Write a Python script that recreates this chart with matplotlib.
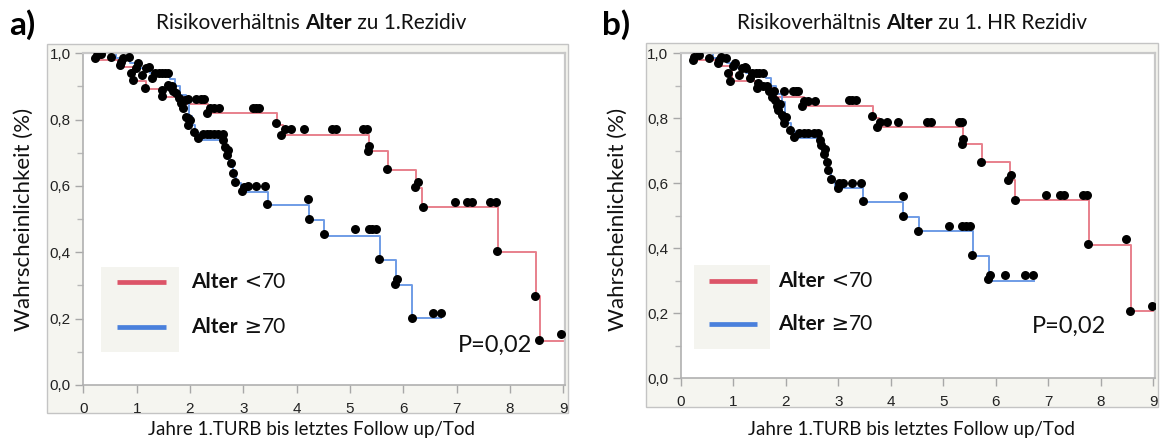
import numpy as np
import matplotlib
matplotlib.use("Agg")
import matplotlib.pyplot as plt
from matplotlib.patches import Rectangle
from matplotlib.lines import Line2D
from matplotlib.text import Annotation
from matplotlib.ticker import MultipleLocator, FixedLocator, FuncFormatter

# Kaplan-Meier steps: event time, survival after the event, end of follow up
red_a_t = [0, 0.22, 0.68, 0.93, 1.17, 1.47, 1.88, 2.34, 3.64, 3.75, 5.35, 5.72, 6.24, 6.34, 7.77, 8.48, 8.57]
red_a_s = [1.0, 0.98, 0.96, 0.916, 0.891, 0.869, 0.847, 0.821, 0.784, 0.754, 0.704, 0.648, 0.595, 0.536, 0.402, 0.269, 0.134]
red_a_end = 9.0
blue_a_t = [0, 0.62, 0.88, 1.05, 1.25, 1.62, 1.72, 1.82, 1.92, 1.98, 2.04, 2.10, 2.17, 2.62, 2.68, 2.74, 2.80, 2.86,
            2.95, 3.47, 4.23, 4.52, 5.56, 5.86, 6.17]
blue_a_s = [1.0, 0.985, 0.97, 0.955, 0.94, 0.924, 0.90, 0.875, 0.85, 0.81, 0.785, 0.76, 0.739, 0.72, 0.70, 0.67, 0.64,
            0.61, 0.583, 0.543, 0.497, 0.45, 0.377, 0.30, 0.201]
blue_a_end = 6.71

red_b_t = [0, 0.22, 0.70, 0.98, 1.43, 1.82, 2.35, 3.66, 3.77, 5.38, 5.73, 6.26, 6.37, 7.77, 8.58]
red_b_s = [1.0, 0.98, 0.96, 0.915, 0.893, 0.867, 0.838, 0.80, 0.772, 0.72, 0.664, 0.611, 0.55, 0.411, 0.207]
red_b_end = 9.0
blue_b_t = [0, 0.62, 0.88, 1.05, 1.25, 1.62, 1.72, 1.82, 1.92, 1.98, 2.04, 2.10, 2.17, 2.63, 2.69, 2.75, 2.81, 2.87,
            2.94, 3.47, 4.24, 4.53, 5.57, 5.87]
blue_b_s = [1.0, 0.985, 0.97, 0.955, 0.94, 0.924, 0.90, 0.875, 0.85, 0.81, 0.785, 0.76, 0.74, 0.72, 0.70, 0.67, 0.64,
            0.61, 0.584, 0.542, 0.497, 0.452, 0.376, 0.30]
blue_b_end = 6.72

dots_a_t = [0.22, 0.25, 0.34, 0.51, 0.68, 0.70, 0.74, 0.86, 0.89, 0.93, 0.98, 1.03, 1.10, 1.15, 1.17, 1.24, 1.29,
            1.34, 1.42, 1.48, 1.54, 1.58, 1.47, 1.47, 1.58, 1.63, 1.67, 1.69, 1.74, 1.79, 1.83, 1.86, 1.90, 1.93,
            1.96, 1.96, 2.00, 1.96, 2.07, 2.12, 2.20, 2.27, 2.15, 2.24, 2.31, 2.38, 2.45, 2.53, 2.61, 2.31, 2.37,
            2.45, 2.55, 2.62, 2.66, 2.72, 2.70, 2.77, 2.81, 2.84, 2.98, 3.02, 3.08, 3.23, 3.40, 3.45, 3.19, 3.24,
            3.30, 3.62, 3.71, 3.78, 3.90, 4.13, 4.66, 4.73, 5.25, 5.32, 5.35, 5.33, 5.70, 6.22, 6.27, 6.36, 6.96,
            7.19, 7.28, 7.62, 7.74, 7.75, 8.46, 8.55, 8.95, 4.21, 4.23, 4.51, 5.09, 5.35, 5.42, 5.48, 5.54, 5.85,
            5.88, 6.17, 6.56, 6.70]
dots_a_s = [0.985, 0.995, 0.998, 0.988, 0.965, 0.975, 0.985, 0.988, 0.94, 0.918, 0.955, 0.972, 0.935, 0.894, 0.955,
            0.96, 0.925, 0.94, 0.942, 0.942, 0.942, 0.942, 0.889, 0.871, 0.905, 0.897, 0.90, 0.887, 0.879, 0.864,
            0.849, 0.834, 0.86, 0.809, 0.861, 0.804, 0.799, 0.784, 0.764, 0.862, 0.862, 0.862, 0.744, 0.757, 0.757,
            0.757, 0.757, 0.757, 0.757, 0.819, 0.836, 0.836, 0.836, 0.739, 0.719, 0.709, 0.693, 0.668, 0.640,
            0.613, 0.586, 0.598, 0.601, 0.601, 0.601, 0.545, 0.836, 0.836, 0.836, 0.789, 0.754, 0.771, 0.771,
            0.771, 0.771, 0.771, 0.771, 0.771, 0.721, 0.706, 0.651, 0.596, 0.611, 0.538, 0.553, 0.553, 0.553,
            0.553, 0.553, 0.404, 0.269, 0.136, 0.153, 0.560, 0.500, 0.454, 0.469, 0.469, 0.469, 0.469, 0.379,
            0.305, 0.319, 0.203, 0.218, 0.218]

dots_b_t = [0.23, 0.26, 0.35, 0.54, 0.71, 0.72, 0.76, 0.86, 0.90, 0.93, 1.00, 1.04, 1.11, 1.17, 1.22, 1.25, 1.32,
            1.36, 1.43, 1.50, 1.57, 1.46, 1.48, 1.57, 1.64, 1.68, 1.73, 1.77, 1.80, 1.84, 1.85, 1.90, 1.97, 1.92,
            1.96, 2.00, 1.96, 2.08, 2.16, 2.14, 2.19, 2.24, 2.26, 2.35, 2.43, 2.53, 2.62, 2.31, 2.35, 2.43, 2.55,
            2.65, 2.67, 2.74, 2.72, 2.79, 2.81, 2.86, 2.99, 3.02, 3.09, 3.26, 3.43, 3.47, 3.21, 3.27, 3.33, 3.64,
            3.73, 3.80, 3.92, 4.14, 4.69, 4.76, 5.29, 5.36, 5.37, 5.35, 5.72, 6.23, 6.28, 6.36, 6.96, 7.22, 7.29,
            7.66, 7.74, 7.76, 8.47, 8.56, 8.97, 4.23, 4.24, 4.52, 5.10, 5.36, 5.43, 5.50, 5.55, 5.85, 5.89, 6.17,
            6.56, 6.70]
dots_b_s = [0.98, 0.99, 0.995, 0.987, 0.97, 0.98, 0.99, 0.985, 0.94, 0.915, 0.96, 0.97, 0.933, 0.954, 0.959, 0.954,
            0.923, 0.94, 0.94, 0.94, 0.94, 0.893, 0.908, 0.90, 0.898, 0.885, 0.867, 0.885, 0.857, 0.838, 0.826,
            0.844, 0.885, 0.81, 0.80, 0.805, 0.785, 0.765, 0.742, 0.885, 0.885, 0.885, 0.756, 0.756, 0.756, 0.756,
            0.756, 0.838, 0.854, 0.854, 0.854, 0.734, 0.719, 0.705, 0.691, 0.664, 0.64, 0.613, 0.585, 0.601, 0.601,
            0.601, 0.601, 0.545, 0.855, 0.855, 0.855, 0.808, 0.773, 0.788, 0.788, 0.788, 0.788, 0.788, 0.788,
            0.788, 0.736, 0.722, 0.666, 0.611, 0.626, 0.55, 0.565, 0.565, 0.565, 0.565, 0.565, 0.414, 0.429,
            0.207, 0.222, 0.56, 0.498, 0.454, 0.47, 0.47, 0.47, 0.47, 0.379, 0.304, 0.319, 0.319, 0.319, 0.319]

groups = ["Alter", "Alter"]
group_signs = [" <", " \u2265"]
group_limit = "70"
y_ticks = [0.0, 0.2, 0.4, 0.6, 0.8, 1.0]
x_ticks = list(range(10))
p_text = "P=0,02"

W, H = 1164, 443
txt = ["Lato", "DejaVu Sans"]
red_line = "#e8808c"
blue_line = "#6f9ce6"
red_leg = "#dc5468"
blue_leg = "#4a80dc"


def fx(px):
    return px / W


def fy(py):
    return 1 - py / H


def chain(fig, x, y, parts, size, center=False):
    # parts: (text, weight, family) pieces drawn one after another on one line
    first = fig.text(fx(x), fy(y), parts[0][0], fontsize=size, weight=parts[0][1],
                     family=parts[0][2], ha="left", va="center", color="#111111")
    prev = first
    for s, w, f in parts[1:]:
        prev = fig.add_artist(Annotation(s, xy=(1, 0), xycoords=prev, va="bottom", ha="left",
                                         fontsize=size, weight=w, family=f, color="#111111"))
    if center:
        fig.canvas.draw()
        width = prev.get_window_extent().x1 - first.get_window_extent().x0
        first.set_x(fx(x - width / 2))
    return first


def panel(fig, frame, box, red, blue, dots, title, title_x, label, label_x, ylab_x, xlab_x, leg, p_xy):
    x0, y0, x1, y1 = frame
    fig.add_artist(Rectangle((fx(x0), fy(y1)), (x1 - x0) / W, (y1 - y0) / H, transform=fig.transFigure,
                             facecolor="#f5f5f0", edgecolor="#c4c4c4", lw=1.0, zorder=0))
    l, t, r, b = box
    ax = fig.add_axes([fx(l), fy(b), (r - l) / W, (b - t) / H])
    ax.set_facecolor("white")
    for t_, s_, end, c in [red + (red_line,), blue + (blue_line,)]:
        ax.step(np.append(t_, end), np.append(s_, s_[-1]), where="post", color=c, lw=1.4, zorder=2)
    ax.scatter(dots[0], dots[1], s=42, color="black", lw=0, zorder=3)
    ax.set_xlim(0, 9.03)
    ax.set_ylim(0, 1.0)
    ax.xaxis.set_major_locator(FixedLocator(x_ticks))
    ax.yaxis.set_major_locator(FixedLocator(y_ticks))
    ax.yaxis.set_minor_locator(MultipleLocator(0.1))
    ax.yaxis.set_major_formatter(FuncFormatter(lambda v, p: ("%.1f" % v).replace(".", ",")))
    for side in ["left", "bottom"]:
        ax.spines[side].set_color("#b0b0b0")
        ax.spines[side].set_linewidth(1.2)
    for side in ["top", "right"]:
        ax.spines[side].set_color("#c8c8c8")
        ax.spines[side].set_linewidth(1.6)
    ax.tick_params(which="major", length=6, width=1, color="#a8a8a8", labelsize=11, labelcolor="#222222")
    ax.tick_params(which="minor", length=4, width=1, color="#b8b8b8")
    ax.tick_params(axis="x", pad=6)
    ax.tick_params(axis="y", pad=3)
    for lab in ax.get_xticklabels() + ax.get_yticklabels():
        lab.set_family("Liberation Sans")

    chain(fig, title_x, 23, title, 15, center=True)
    fig.text(fx(label_x), fy(25), label, fontsize=24, weight="bold", family=txt, ha="left", va="center")
    fig.text(fx(ylab_x), fy(219), "Wahrscheinlichkeit (%)", rotation=90, fontsize=16, family=txt,
             ha="center", va="center", color="#111111")
    fig.text(fx(xlab_x), fy(430), "Jahre 1.TURB bis letztes Follow up/Tod", fontsize=13.5, family=txt,
             ha="center", va="center", color="#111111")

    bx0, by0, bx1, by1, lx0, lx1, ly_r, ly_b, tx = leg
    fig.add_artist(Rectangle((fx(bx0), fy(by1)), (bx1 - bx0) / W, (by1 - by0) / H, transform=fig.transFigure,
                             facecolor="#f4f4ef", edgecolor="none", zorder=1))
    for ly, c, g, sign in [(ly_r, red_leg, groups[0], group_signs[0]), (ly_b, blue_leg, groups[1], group_signs[1])]:
        fig.add_artist(Line2D([fx(lx0), fx(lx1)], [fy(ly), fy(ly)], transform=fig.transFigure,
                              color=c, lw=3.4, solid_capstyle="butt", zorder=2))
        chain(fig, tx, ly, [(g, "bold", txt), (sign, "normal", ["DejaVu Sans"]),
                            (group_limit, "normal", txt)], 15)
    fig.text(fx(p_xy[0]), fy(p_xy[1]), p_text, fontsize=17, family=txt, ha="center", va="center", color="#111111")
    return ax


fig = plt.figure(figsize=(W / 100, H / 100), dpi=100)
fig.patch.set_facecolor("white")

panel(fig, (46.7, 44.3, 568.3, 413.3), (83.3, 53.3, 565.0, 385.0),
      (red_a_t, red_a_s, red_a_end), (blue_a_t, blue_a_s, blue_a_end), (dots_a_t, dots_a_s),
      [("Risikoverh\u00e4ltnis ", "normal", txt), ("Alter", "bold", txt), (" zu 1.Rezidiv", "normal", txt)], 311,
      "a)", 9, 24, 312, (101, 267, 179, 352, 117, 166, 282.3, 326.7, 191), (495, 345))

panel(fig, (646, 43, 1158, 406.7), (680.7, 53.3, 1155.0, 378.3),
      (red_b_t, red_b_s, red_b_end), (blue_b_t, blue_b_s, blue_b_end), (dots_b_t, dots_b_s),
      [("Risikoverh\u00e4ltnis ", "normal", txt), ("Alter", "bold", txt), (" zu 1. HR Rezidiv", "normal", txt)], 912,
      "b)", 602, 618, 912, (694, 265, 770, 349, 709, 757, 280.7, 324, 778), (1069, 326))

fig.savefig("out.png", dpi=100)
